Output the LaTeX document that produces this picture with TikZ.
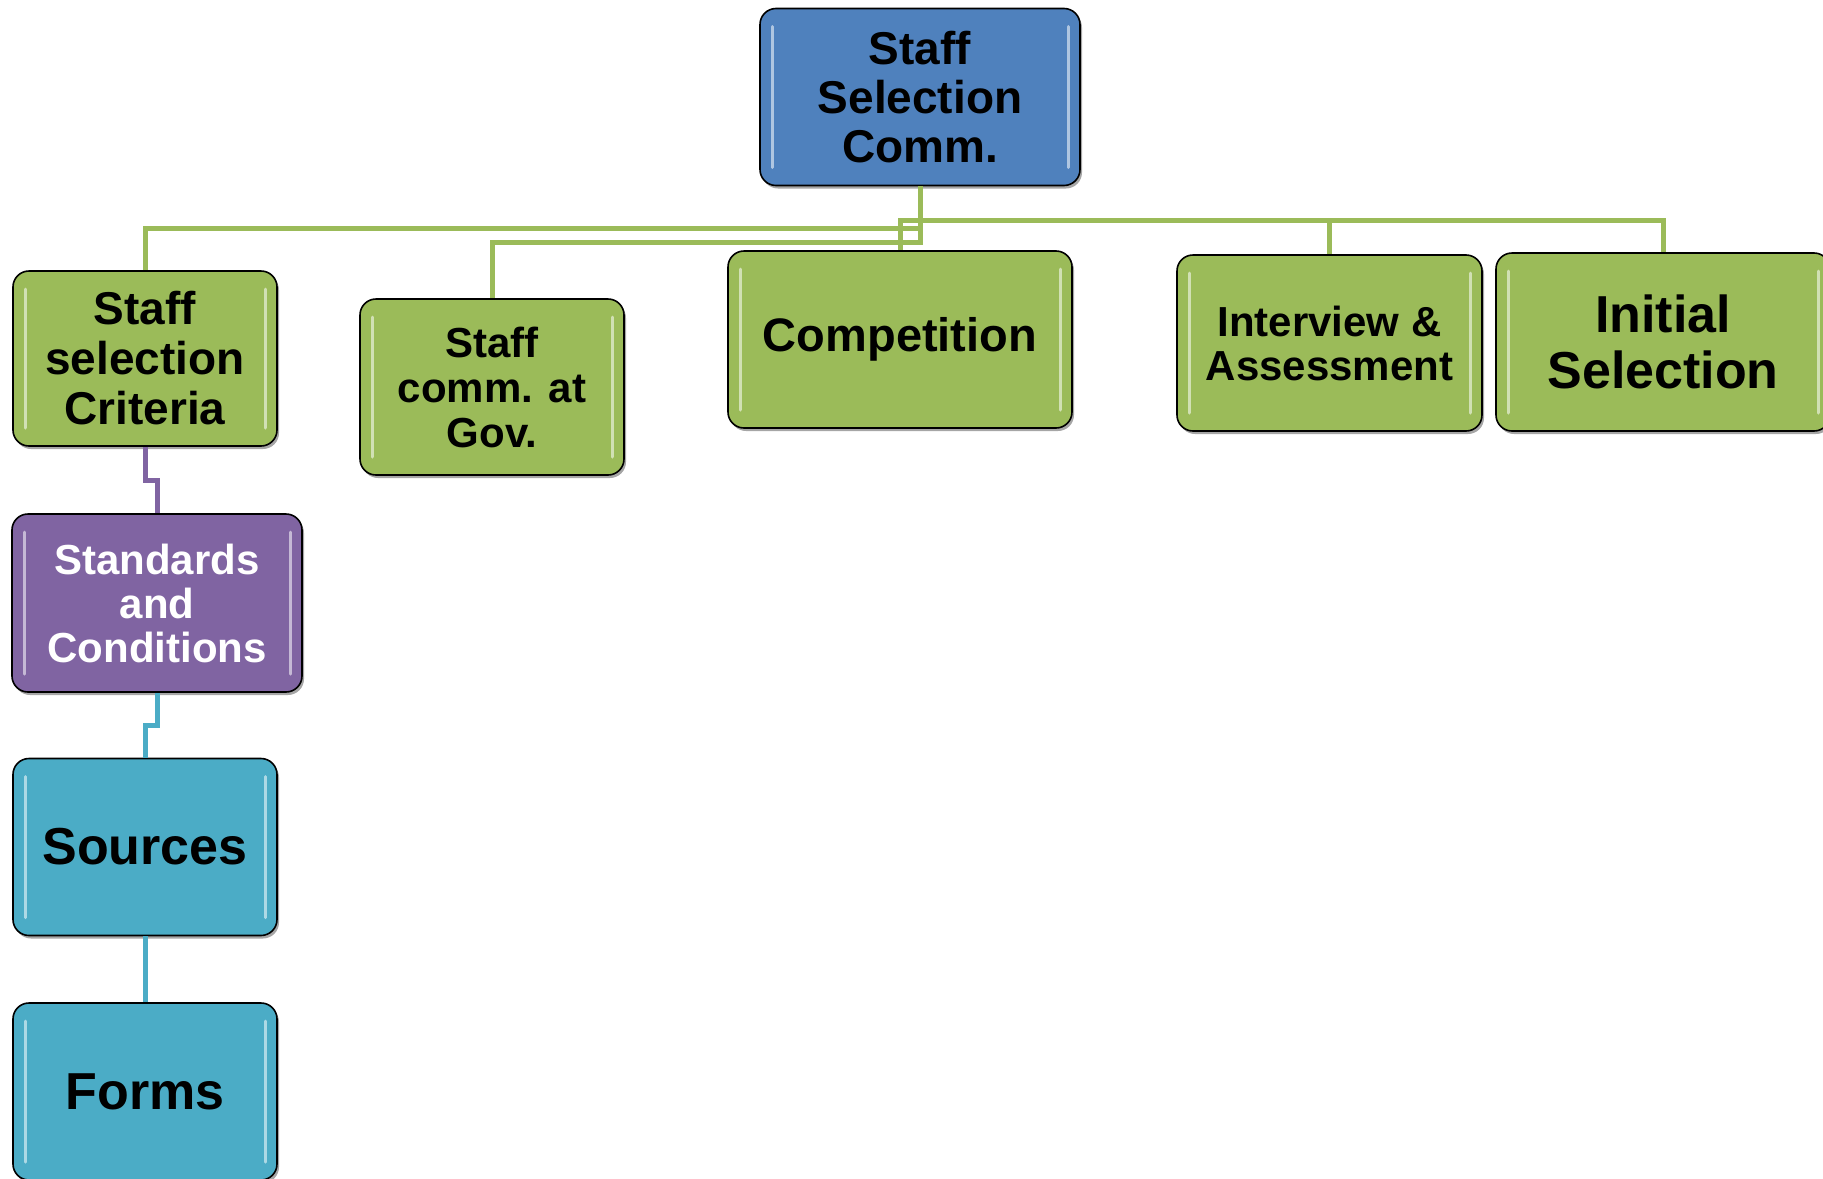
\documentclass[tikz,border=0pt]{standalone}
\usepackage{fontspec}
\setmainfont{Liberation Sans}
\usetikzlibrary{shadows}
\definecolor{cblue}{HTML}{4F81BD}
\definecolor{cgreen}{HTML}{9BBB59}
\definecolor{cpurple}{HTML}{8064A2}
\definecolor{caqua}{HTML}{4BACC6}
\newcommand{\fs}[2]{\fontsize{#1}{#2}\selectfont}
\tikzset{
  box/.style={draw=black, line width=1.6pt, rounded corners=16pt, inner sep=0pt, align=center,
    drop shadow={shadow xshift=2pt, shadow yshift=-3pt, opacity=0.35, fill=black},
    path picture={
      \draw[line width=3pt, white, opacity=0.55, line cap=round]
        ([shift={(12pt,-18pt)}]path picture bounding box.north west) --
        ([shift={(12pt,18pt)}]path picture bounding box.south west);
      \draw[line width=3pt, white, opacity=0.55, line cap=round]
        ([shift={(-12pt,-18pt)}]path picture bounding box.north east) --
        ([shift={(-12pt,18pt)}]path picture bounding box.south east);
    }},
  gbox/.style={box, fill=cgreen},
  fnt/.style 2 args={font=\bfseries\fs{#1}{#2}},
  gline/.style={draw=cgreen, line width=5pt},
  pline/.style={draw=cpurple, line width=5pt},
  aline/.style={draw=caqua, line width=5pt},
}
\begin{document}
\begin{tikzpicture}[x=1pt,y=-1pt]
\useasboundingbox (0,0) rectangle (1823,1178);
% nodes
\node[box, fill=cblue, fnt={46}{49}, minimum width=320pt, minimum height=177pt] (top) at (920,97)
  {Staff\\Selection\\Comm.};
\node[gbox, fnt={46}{50}, minimum width=264pt, minimum height=175pt] (crit) at (145,358.5)
  {Staff\\selection\\Criteria};
\node[gbox, fnt={42}{45}, minimum width=264pt, minimum height=176pt] (gov) at (492,387)
  {Staff\\comm. at\\Gov.};
\node[gbox, fnt={47}{50}, minimum width=344pt, minimum height=177pt] (comp) at (900,339.5)
  {Competition};
\node[gbox, fnt={42}{44}, minimum width=305pt, minimum height=176pt] (intv) at (1329.5,343)
  {Interview \&\\Assessment};
\node[gbox, fnt={52}{56}, minimum width=334pt, minimum height=178pt] (init) at (1663,342)
  {Initial\\Selection};
\node[box, fill=cpurple, text=white, fnt={42}{44}, minimum width=290pt, minimum height=178pt] (std) at (157,603)
  {Standards\\and\\Conditions};
\node[box, fill=caqua, fnt={52}{56}, minimum width=264pt, minimum height=177pt] (src) at (145,847)
  {Sources};
\node[box, fill=caqua, fnt={52}{56}, minimum width=264pt, minimum height=177pt] (forms) at (145,1091.5)
  {Forms};
% bus levels
\coordinate (ya) at (0,220);
\coordinate (yb) at (0,228);
\coordinate (yc) at (0,242);
\coordinate (yp) at (0,480);
\coordinate (yq) at (0,725);
% connectors
\draw[gline] (top.south) -- (top.south |- yb) -| (crit.north);
\draw[gline] (top.south) -- (top.south |- yc) -| (gov.north);
\draw[gline] (top.south) -- (top.south |- ya) -| (comp.north);
\draw[gline] (top.south) -- (top.south |- ya) -| (intv.north);
\draw[gline] (top.south) -- (top.south |- ya) -| (init.north);
\draw[pline] (crit.south) -- (crit.south |- yp) -| (std.north);
\draw[aline] (std.south) -- (std.south |- yq) -| (src.north);
\draw[aline] (src.south) -- (forms.north);
\end{tikzpicture}
\end{document}
